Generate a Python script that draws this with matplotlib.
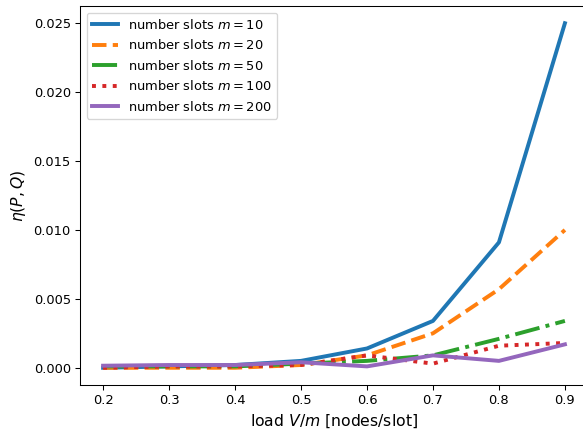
import matplotlib.pyplot as plt

load = [0.2, 0.3, 0.4, 0.5, 0.6, 0.7, 0.8, 0.9]
eta_10 = [0.0000, 0.0001, 0.0002, 0.0005, 0.0014, 0.0034, 0.0091, 0.0250]
eta_20 = [0.0000, 0.0000, 0.0000, 0.0002, 0.0009, 0.0025, 0.0057, 0.0100]
eta_50 = [0.0001, 0.0001, 0.0001, 0.0003, 0.0005, 0.0009, 0.0021, 0.0034]
eta_100 = [0.0000, 0.0001, 0.0001, 0.0002, 0.0009, 0.0003, 0.0016, 0.0018]
eta_200 = [0.00015, 0.0002, 0.0002, 0.0004, 0.0001, 0.0009, 0.0005, 0.0017]

dpi = 94
fig = plt.figure(figsize=(583 / dpi, 432 / dpi), dpi=dpi)
# axes runs a bit past the right edge, like the cropped original
ax = fig.add_axes([80 / 583, 47 / 432, 508 / 583, 379 / 432])

ax.plot(load, eta_10, label='number slots $m=10$', color='#1f77b4', linestyle='-', linewidth=3)
ax.plot(load, eta_20, label='number slots $m=20$', color='#ff7f0e', linestyle='--', linewidth=3)
ax.plot(load, eta_50, label='number slots $m=50$', color='#2ca02c', linestyle='-.', linewidth=3)
ax.plot(load, eta_100, label='number slots $m=100$', color='#d62728', linestyle=':', linewidth=3)
ax.plot(load, eta_200, label='number slots $m=200$', color='#9467bd', linestyle='-', linewidth=3)

ax.set_xlabel('load $V/m$ [nodes/slot]', fontsize=12)
ax.set_ylabel(r'$\eta(P,Q)$', fontsize=12)
ax.legend(loc='upper left')

plt.savefig('out.png', dpi=dpi)
